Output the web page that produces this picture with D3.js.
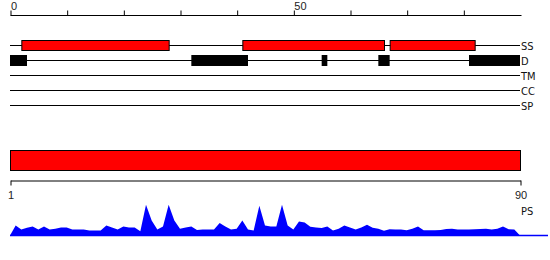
<!DOCTYPE html>
<html>
<head>
<meta charset="utf-8">
<script src="https://cdn.jsdelivr.net/npm/d3@7"></script>
<style>
  body { margin: 0; background: #fff; }
  svg { display: block; font-family: "DejaVu Sans Condensed", "DejaVu Sans", sans-serif; }
</style>
</head>
<body>
<div id="chart"></div>
<script>
// sequence length and track names
const seqLength = 90;
const trackNames = ['SS', 'D', 'TM', 'CC', 'SP'];

// feature segments per track, [start, end] in residue units
const ssSegments = [[2, 28], [41, 66], [67, 82]];
const disorderSegments = [[0, 3], [32, 42], [55, 56], [65, 67], [81, 90]];

// top ruler ticks
const rulerTicks = [0, 10, 20, 30, 40, 50, 60, 70, 80];
const rulerLabels = [0, 50];

// bottom protein bar ticks
const proteinTicks = [1, 90];

// per-residue score profile (PS)
const psScores = [
  0, 32, 19, 25, 29, 19, 29, 19, 22, 26, 26, 19, 19, 19, 16, 16, 16, 32, 26, 19,
  29, 26, 26, 14, 99, 48, 19, 29, 99, 48, 22, 26, 29, 18, 19, 19, 19, 40, 29, 19,
  22, 48, 19, 16, 96, 32, 29, 29, 99, 32, 19, 45, 42, 28, 26, 24, 29, 16, 22, 32,
  26, 19, 26, 35, 25, 22, 15, 20, 19, 19, 17, 22, 29, 17, 17, 17, 18, 21, 22, 19,
  19, 19, 20, 21, 22, 19, 22, 29, 20, 19, 0
];

const width = 550, height = 260;
const svg = d3.select('#chart').append('svg')
  .attr('width', width).attr('height', height);

const x = d3.scaleLinear().domain([0, seqLength]).range([10, 520]);

// ===================== TOP RULER ===================== //
const ruler = svg.append('g').attr('transform', 'translate(0.5, 15.5)')
  .call(d3.axisTop(x).tickValues(rulerTicks).tickSize(5).tickSizeOuter(0)
    .tickFormat(d => rulerLabels.includes(d) ? d : ''));
ruler.select('.domain').attr('d', `M${x(0)},0H${x(seqLength) + 1}`);
ruler.selectAll('text')
  .attr('text-anchor', 'start').attr('y', -6).attr('dy', 0)
  .style('font-size', '11px').attr('fill', '#222');

// ===================== TRACKS ===================== //
const trackY = d3.scalePoint().domain(trackNames).range([45, 105]);

const tracks = svg.append('g');
tracks.selectAll('line')
  .data(trackNames).enter().append('line')
  .attr('x1', x(0)).attr('x2', x(seqLength))
  .attr('y1', d => trackY(d) + 0.5).attr('y2', d => trackY(d) + 0.5)
  .attr('stroke', '#000');

tracks.selectAll('text')
  .data(trackNames).enter().append('text')
  .attr('x', x(seqLength) + 1).attr('y', d => trackY(d) + 5)
  .style('font-size', '11px').attr('fill', '#111')
  .text(d => d);

svg.append('g').selectAll('rect')
  .data(ssSegments).enter().append('rect')
  .attr('x', d => x(d[0]) + 0.5).attr('width', d => x(d[1]) - x(d[0]))
  .attr('y', trackY('SS') - 4.5).attr('height', 10)
  .attr('fill', '#ff0000').attr('stroke', '#000');

svg.append('g').selectAll('rect')
  .data(disorderSegments).enter().append('rect')
  .attr('x', d => x(d[0])).attr('width', d => x(d[1]) - x(d[0]))
  .attr('y', trackY('D') - 5).attr('height', 11)
  .attr('fill', '#000');

// ===================== PROTEIN BAR ===================== //
const xp = d3.scaleLinear().domain([1, seqLength]).range([10, 520]);

svg.append('rect')
  .attr('x', xp(1) + 0.5).attr('width', xp(seqLength) - xp(1))
  .attr('y', 150.5).attr('height', 20)
  .attr('fill', '#ff0000').attr('stroke', '#000');

const pAxis = svg.append('g').attr('transform', 'translate(0.5, 180.5)')
  .call(d3.axisBottom(xp).tickValues(proteinTicks).tickSize(5).tickSizeOuter(0).tickPadding(6));
pAxis.selectAll('text').style('font-size', '11px').attr('fill', '#222');

svg.append('text')
  .attr('x', 521).attr('y', 215)
  .style('font-size', '11px').attr('fill', '#111')
  .text('PS');

// ===================== SCORE PROFILE ===================== //
const y = d3.scaleLinear().domain([0, 100]).range([235.5, 204.5]);

svg.append('line')
  .attr('x1', x(0)).attr('x2', 548)
  .attr('y1', y(0)).attr('y2', y(0))
  .attr('stroke', '#0000ff').attr('stroke-width', 1.5);

const area = d3.area()
  .x((d, i) => x(i))
  .y0(y(0))
  .y1(d => y(d));

svg.append('path')
  .datum(psScores)
  .attr('d', area)
  .attr('fill', '#0000ff');
</script>
</body>
</html>
